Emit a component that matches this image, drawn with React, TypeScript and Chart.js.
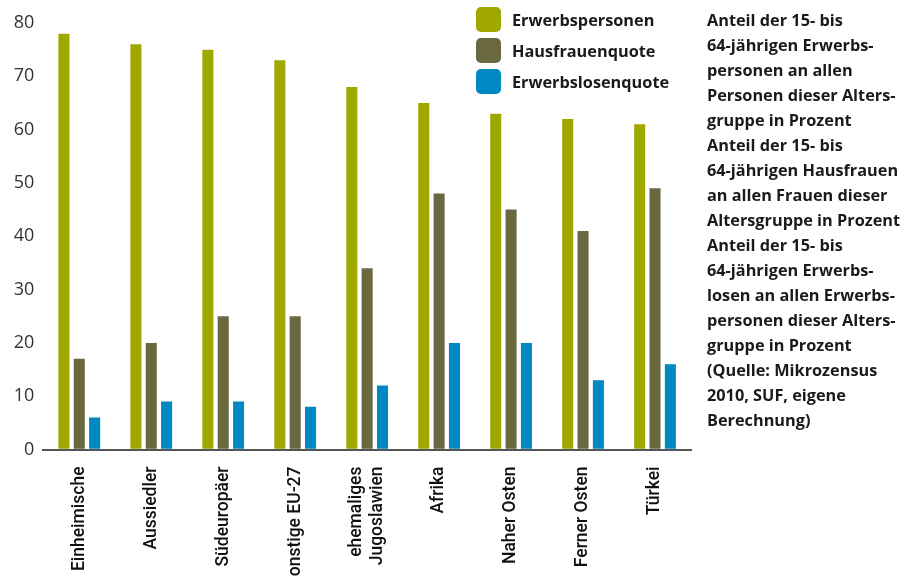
import React, { useEffect, useRef } from "react";
import { Chart, registerables } from "chart.js";

Chart.register(...registerables);

const categories: (string | string[])[] = [
  "Einheimische",
  "Aussiedler",
  "Südeuropäer",
  "sonstige EU-27",
  ["ehemaliges", "Jugoslawien"],
  "Afrika",
  "Naher Osten",
  "Ferner Osten",
  "Türkei",
];
const seriesNames = ["Erwerbspersonen", "Hausfrauenquote", "Erwerbslosenquote"];
const erwerbspersonen = [78, 76, 75, 73, 68, 65, 63, 62, 61];
const hausfrauenquote = [17, 20, 25, 25, 34, 48, 45, 41, 49];
const erwerbslosenquote = [6, 9, 9, 8, 12, 20, 20, 13, 16];
const seriesColors = ["#a0a800", "#6a6840", "#0088c2"];
const yMin = 0;
const yMax = 80;
const yStep = 10;

const noteLines = [
  "Anteil der 15- bis",
  "64-jährigen Erwerbs-",
  "personen an allen",
  "Personen dieser Alters-",
  "gruppe in Prozent",
  "Anteil der 15- bis",
  "64-jährigen Hausfrauen",
  "an allen Frauen dieser",
  "Altersgruppe in Prozent",
  "Anteil der 15- bis",
  "64-jährigen Erwerbs-",
  "losen an allen Erwerbs-",
  "personen dieser Alters-",
  "gruppe in Prozent",
  "(Quelle: Mikrozensus",
  "2010, SUF, eigene",
  "Berechnung)",
];

// Centre multi-line rotated category labels on their tick.
const centerMultilineLabels = {
  id: "centerMultilineLabels",
  beforeDraw(chart: any) {
    const scale = chart.scales.x;
    if (!scale) return;
    const items = scale.getLabelItems(chart.chartArea);
    items.forEach((it: any) => {
      if (Array.isArray(it.label) && it.label.length > 1 && !it._centered) {
        it.textOffset -= ((it.label.length - 1) * it.font.lineHeight) / 2;
        it._centered = true;
      }
    });
  },
};

export default function App() {
  const canvasRef = useRef<HTMLCanvasElement | null>(null);

  useEffect(() => {
    const canvas = canvasRef.current;
    if (!canvas) return;
    const values = [erwerbspersonen, hausfrauenquote, erwerbslosenquote];
    const chart = new Chart(canvas, {
      type: "bar",
      data: {
        labels: categories,
        datasets: seriesNames.map((name, i) => ({
          label: name,
          data: values[i],
          backgroundColor: seriesColors[i],
          borderWidth: 0,
          categoryPercentage: 0.64,
          barPercentage: 0.72,
        })),
      },
      plugins: [centerMultilineLabels],
      options: {
        responsive: false,
        animation: false,
        layout: { padding: { left: 0, right: 221, top: 23, bottom: 0 } },
        plugins: {
          legend: { display: false },
          tooltip: { enabled: false },
          title: { display: false },
        },
        scales: {
          x: {
            z: 1,
            grid: { display: false },
            border: { display: true, color: "#555555", width: 2 },
            ticks: {
              minRotation: 90,
              maxRotation: 90,
              autoSkip: false,
              padding: 9,
              color: "#111111",
              font: { family: "Roboto, 'Open Sans', sans-serif", size: 17.5, weight: "500", lineHeight: 1.15 },
            },
            afterFit: (scale: any) => {
              scale.height = 126.5;
            },
          },
          y: {
            z: 1,
            min: yMin,
            max: yMax,
            border: { display: false },
            grid: {
              drawTicks: false,
              lineWidth: 1.5,
              color: (ctx: any) => (ctx.tick && ctx.tick.value === 0 ? "rgba(0,0,0,0)" : "#ffffff"),
            },
            ticks: {
              stepSize: yStep,
              padding: 9,
              color: "#333333",
              font: { family: "'Open Sans', sans-serif", size: 18 },
            },
            afterFit: (scale: any) => {
              scale.width = 43.3;
            },
          },
        },
      },
    });
    return () => chart.destroy();
  }, []);

  const textStyle: React.CSSProperties = {
    fontFamily: "'Open Sans', sans-serif",
    fontWeight: 700,
    fontSize: 16.3,
    color: "#1a1a1a",
  };

  return (
    <div
      style={{
        position: "absolute",
        left: 0,
        top: 0,
        width: 912,
        height: 576,
        overflow: "hidden",
        background: "#ffffff",
      }}
    >
      <canvas ref={canvasRef} width={912} height={576} style={{ position: "absolute", left: 0, top: 0 }} />
      <div style={{ position: "absolute", left: 476, top: 3.5, ...textStyle }}>
        {seriesNames.map((name, i) => (
          <div key={name} style={{ display: "flex", alignItems: "center", height: 31 }}>
            <div
              style={{
                width: 25,
                height: 25,
                borderRadius: 5,
                background: seriesColors[i],
                marginRight: 11,
                flex: "none",
              }}
            />
            <span style={{ lineHeight: "25px", position: "relative", top: 1 }}>{name}</span>
          </div>
        ))}
      </div>
      <div style={{ position: "absolute", left: 707, top: 8, lineHeight: "25px", ...textStyle }}>
        {noteLines.map((line, i) => (
          <div key={i} style={{ whiteSpace: "nowrap" }}>
            {line}
          </div>
        ))}
      </div>
    </div>
  );
}
